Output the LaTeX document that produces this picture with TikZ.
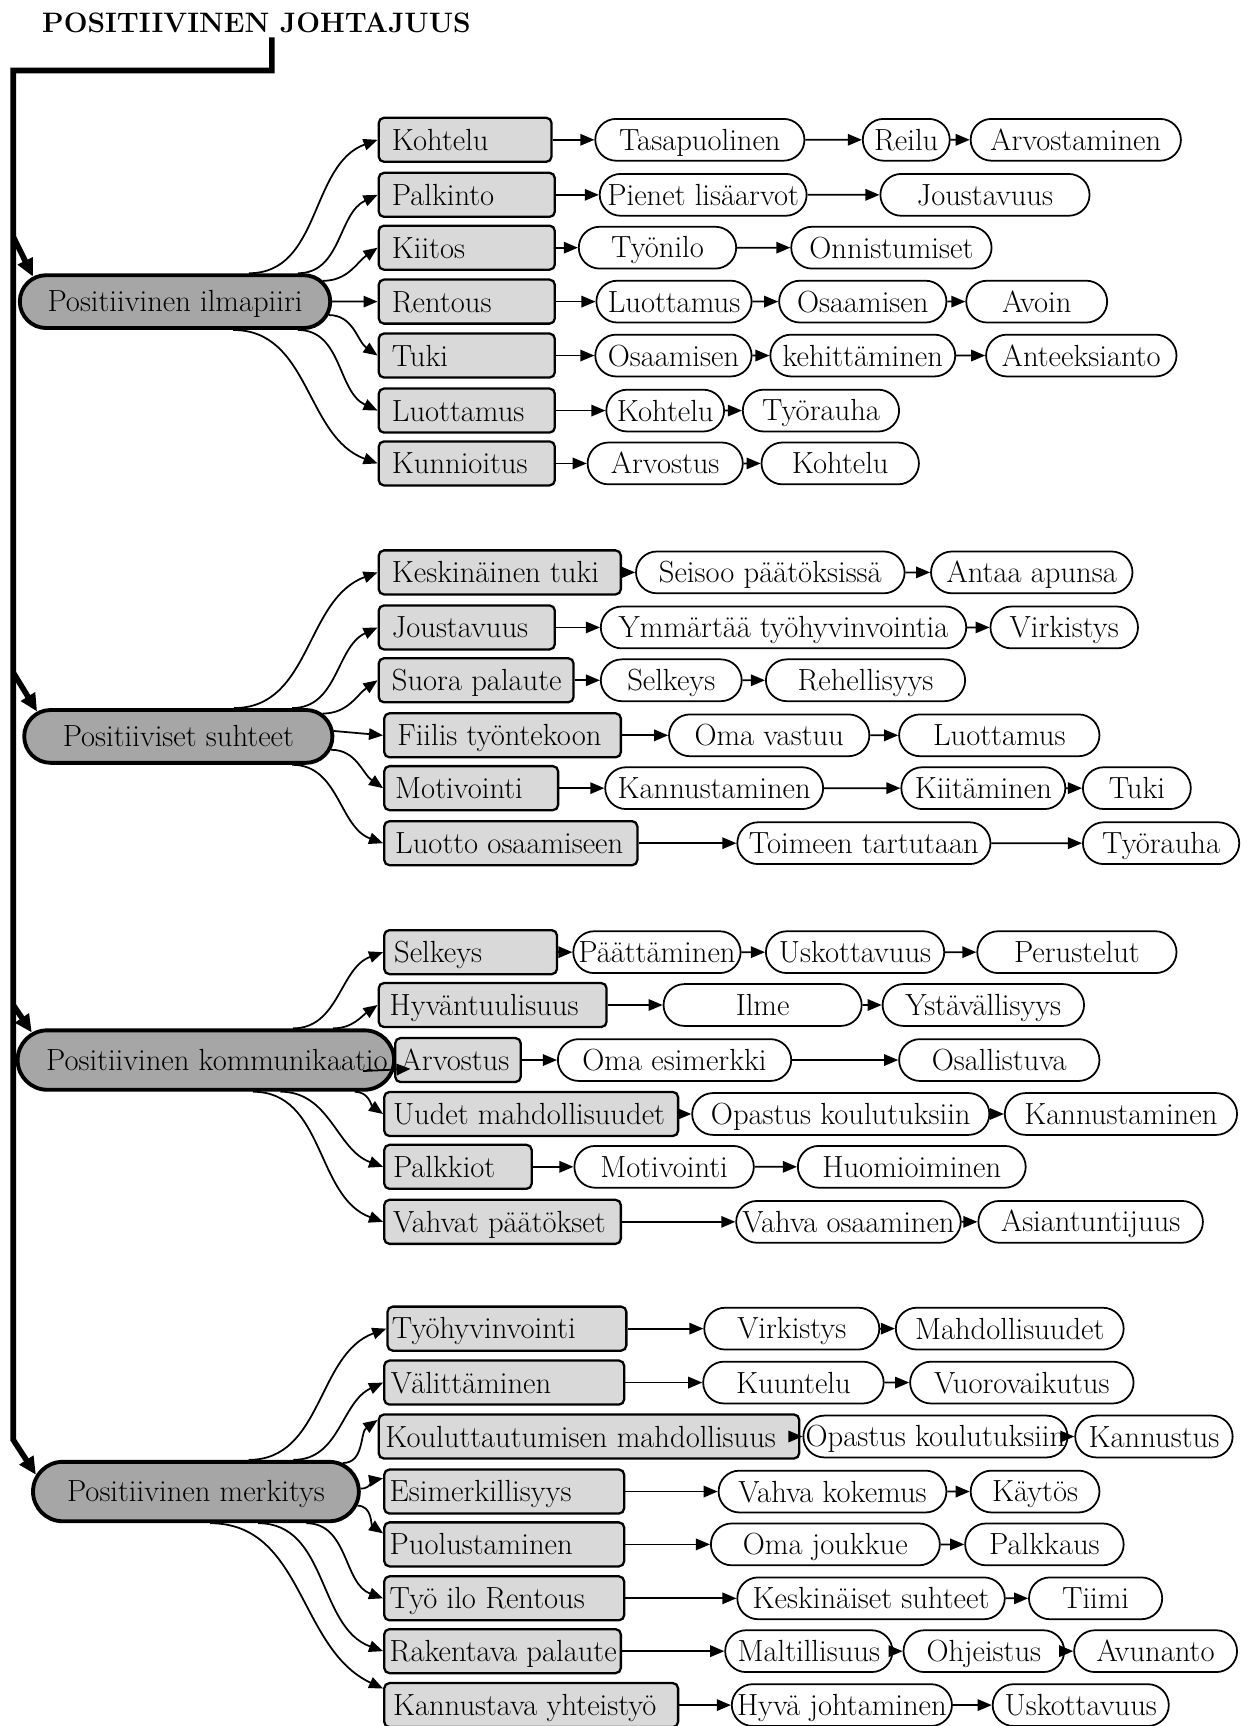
\documentclass[tikz,border=0pt]{standalone}
\usepackage{tikz}
\usetikzlibrary{arrows.meta,positioning,calc,shapes.misc}
\definecolor{hubGray}{HTML}{A6A6A6}
\definecolor{boxGray}{HTML}{D9D9D9}
\newlength{\unitpx}
\setlength{\unitpx}{0.022cm}
\newcommand{\nodestrut}{\rule[-3pt]{0pt}{18pt}}

\begin{document}
\begin{tikzpicture}[x=0.022cm,y=-0.022cm,font=\fontsize{17.4}{20}\selectfont,
  hub/.style 2 args={draw,line width=2.2pt,rounded rectangle,fill=hubGray,inner sep=0pt,
    minimum width=#1*0.022cm,minimum height=#2*0.022cm,
    execute at begin node={\hbox to 0pt\bgroup\hss\nodestrut},execute at end node={\hss\egroup}},
  box/.style 2 args={draw,line width=1.3pt,rounded corners=3pt,fill=boxGray,inner sep=0pt,
    minimum height=40*0.022cm,anchor=west,
    execute at begin node={\hbox to #1\unitpx\bgroup\hskip#2\unitpx\nodestrut},execute at end node={\hfil\egroup}},
  leaf/.style={draw,line width=1pt,rounded rectangle,fill=white,inner sep=0pt,
    minimum width=#1*0.022cm,minimum height=38*0.022cm,anchor=west,
    execute at begin node={\hbox to 0pt\bgroup\hss\nodestrut},execute at end node={\hss\egroup}},
  arr/.style={line width=1pt,-{Triangle[length=8pt,width=6.5pt]}},
  spine/.style={line width=3.2pt,-{Triangle[length=10pt,width=9pt]}}]
\useasboundingbox (0,0) rectangle (1139,1568);
% title and spine
\node[font=\fontsize{16}{19}\selectfont\bfseries,anchor=west,inner sep=0pt] (title) at (38,21) {POSITIIVINEN JOHTAJUUS};
\coordinate (top) at (247,34);
\coordinate (elbow) at (247,64);
\coordinate (corner) at (12,64);
\coordinate (j1) at (12,215);
\coordinate (j2) at (12,611);
\coordinate (j3) at (12,913);
\coordinate (j4) at (12,1308);
% hubs
\node[hub={282}{48}] (hi) at (159,274) {Positiivinen ilmapiiri};
\node[hub={280}{48}] (hs) at (162,669) {Positiiviset suhteet};
\node[hub={342}{54}] (hk) at (187,963) {\hspace{20\unitpx}Positiivinen kommunikaatio};
\node[hub={296}{54}] (hm) at (178,1355) {Positiivinen merkitys};
\draw[spine] (top) -- (elbow) -- (corner) -- (j4) -- (hm.174);
\draw[spine] (j1) -- (hi.170);
\draw[spine] (j2) -- (hs.170);
\draw[spine] (j3) -- (hk.171);
% ilmapiiri
\node[box={157}{12}] (i1) at (343,127) {Kohtelu};
\node[box={160}{12}] (i2) at (343,177) {Palkinto};
\node[box={160}{12}] (i3) at (343,225) {Kiitos};
\node[box={160}{12}] (i4) at (343,274) {Rentous};
\node[box={160}{12}] (i5) at (343,323) {Tuki};
\node[box={160}{12}] (i6) at (343,373) {Luottamus};
\node[box={160}{12}] (i7) at (343,421) {Kunnioitus};
\node[leaf=190] (i1a) at (540,127) {Tasapuolinen};
\node[leaf=79] (i1b) at (783,127) {Reilu};
\node[leaf=191] (i1c) at (881,127) {Arvostaminen};
\node[leaf=188] (i2a) at (544,177) {Pienet lisäarvot};
\node[leaf=190] (i2b) at (799,177) {Joustavuus};
\node[leaf=143] (i3a) at (525,225) {Työnilo};
\node[leaf=182] (i3b) at (718,225) {Onnistumiset};
\node[leaf=141] (i4a) at (541,274) {Luottamus};
\node[leaf=152] (i4b) at (707,274) {Osaamisen};
\node[leaf=128] (i4c) at (877,274) {Avoin};
\node[leaf=142] (i5a) at (540,323) {Osaamisen};
\node[leaf=168] (i5b) at (699,323) {kehittäminen};
\node[leaf=173] (i5c) at (895,323) {Anteeksianto};
\node[leaf=107] (i6a) at (550,373) {Kohtelu};
\node[leaf=142] (i6b) at (674,373) {Työrauha};
\node[leaf=141] (i7a) at (533,421) {Arvostus};
\node[leaf=143] (i7b) at (691,421) {Kohtelu};
\draw[arr] (hi.21) to[out=0,in=200] (i1.west);
\draw[arr] (hi.13) to[out=0,in=205] (i2.west);
\draw[arr] (hi.8) to[out=0,in=215] (i3.west);
\draw[arr] (hi) -- (i4);
\draw[arr] (hi.-5) to[out=0,in=145] (i5.west);
\draw[arr] (hi.-13) to[out=0,in=155] (i6.west);
\draw[arr] (hi.-26) to[out=0,in=160] (i7.west);
\draw[arr] (i1) -- (i1a); \draw[arr] (i1a) -- (i1b); \draw[arr] (i1b) -- (i1c);
\draw[arr] (i2) -- (i2a); \draw[arr] (i2a) -- (i2b);
\draw[arr] (i3) -- (i3a); \draw[arr] (i3a) -- (i3b);
\draw[arr] (i4) -- (i4a); \draw[arr] (i4a) -- (i4b); \draw[arr] (i4b) -- (i4c);
\draw[arr] (i5) -- (i5a); \draw[arr] (i5a) -- (i5b); \draw[arr] (i5b) -- (i5c);
\draw[arr] (i6) -- (i6a); \draw[arr] (i6a) -- (i6b);
\draw[arr] (i7) -- (i7a); \draw[arr] (i7a) -- (i7b);
% suhteet
\node[box={220}{12}] (s1) at (343,520) {Keskinäinen tuki};
\node[box={160}{12}] (s2) at (343,570) {Joustavuus};
\node[box={177}{12}] (s3) at (343,618) {Suora palaute};
\node[box={215}{12}] (s4) at (348,668) {Fiilis työntekoon};
\node[box={158}{10}] (s5) at (348,716) {Motivointi};
\node[box={230}{10}] (s6) at (348,766) {Luotto osaamiseen};
\node[leaf=244] (s1a) at (577,520) {Seisoo päätöksissä};
\node[leaf=183] (s1b) at (845,520) {Antaa apunsa};
\node[leaf=332] (s2a) at (545,570) {Ymmärtää työhyvinvointia};
\node[leaf=134] (s2b) at (899,570) {Virkistys};
\node[leaf=128] (s3a) at (545,618) {Selkeys};
\node[leaf=181] (s3b) at (695,618) {Rehellisyys};
\node[leaf=182] (s4a) at (607,668) {Oma vastuu};
\node[leaf=182] (s4b) at (816,668) {Luottamus};
\node[leaf=198] (s5a) at (549,716) {Kannustaminen};
\node[leaf=149] (s5b) at (818,716) {Kiitäminen};
\node[leaf=98] (s5c) at (983,716) {Tuki};
\node[leaf=230] (s6a) at (669,766) {Toimeen tartutaan};
\node[leaf=142] (s6b) at (983,766) {Työrauha};
\draw[arr] (hs.27) to[out=0,in=200] (s1.west);
\draw[arr] (hs.14) to[out=0,in=205] (s2.west);
\draw[arr] (hs.9) to[out=0,in=215] (s3.west);
\draw[arr] (hs.2) -- (s4.west);
\draw[arr] (hs.-5) to[out=0,in=145] (s5.west);
\draw[arr] (hs.-14) to[out=0,in=160] (s6.west);
\draw[arr] (s1) -- (s1a); \draw[arr] (s1a) -- (s1b);
\draw[arr] (s2) -- (s2a); \draw[arr] (s2a) -- (s2b);
\draw[arr] (s3) -- (s3a); \draw[arr] (s3a) -- (s3b);
\draw[arr] (s4) -- (s4a); \draw[arr] (s4a) -- (s4b);
\draw[arr] (s5) -- (s5a); \draw[arr] (s5a) -- (s5b); \draw[arr] (s5b) -- (s5c);
\draw[arr] (s6) -- (s6a); \draw[arr] (s6a) -- (s6b);
% kommunikaatio
\node[box={157}{9}] (k1) at (348,865) {Selkeys};
\node[box={207}{10}] (k2) at (343,913) {Hyväntuulisuus};
\node[box={114}{5}] (k3) at (358,963) {Arvostus};
\node[box={267}{8}] (k4) at (348,1012) {Uudet mahdollisuudet};
\node[box={134}{8}] (k5) at (348,1060) {Palkkiot};
\node[box={215}{8}] (k6) at (348,1110) {Vahvat päätökset};
\node[leaf=152] (k1a) at (520,865) {Päättäminen};
\node[leaf=162] (k1b) at (695,865) {Uskottavuus};
\node[leaf=181] (k1c) at (887,865) {Perustelut};
\node[leaf=180] (k2a) at (602,913) {Ilme};
\node[leaf=183] (k2b) at (801,913) {Ystävällisyys};
\node[leaf=212] (k3a) at (506,963) {Oma esimerkki};
\node[leaf=182] (k3b) at (816,963) {Osallistuva};
\node[leaf=270] (k4a) at (628,1012) {Opastus koulutuksiin};
\node[leaf=211] (k4b) at (912,1012) {Kannustaminen};
\node[leaf=163] (k5a) at (521,1060) {Motivointi};
\node[leaf=207] (k5b) at (724,1060) {Huomioiminen};
\node[leaf=204] (k6a) at (668,1110) {Vahva osaaminen};
\node[leaf=204] (k6b) at (888,1110) {Asiantuntijuus};
\draw[arr] (hk.20) to[out=0,in=200] (k1.west);
\draw[arr] (hk.14) to[out=0,in=215] (k2.west);
\draw[arr] ($(hk.east)+(-30,10)$) -- ($(k3.west)+(15,8)$);
\draw[arr] (hk.-12) to[out=0,in=145] (k4.west);
\draw[arr] (hk.-23) to[out=0,in=160] (k5.west);
\draw[arr] (hk.-34) to[out=0,in=160] (k6.west);
\draw[arr] (k1) -- (k1a); \draw[arr] (k1a) -- (k1b); \draw[arr] (k1b) -- (k1c);
\draw[arr] (k2) -- (k2a); \draw[arr] (k2a) -- (k2b);
\draw[arr] (k3) -- (k3a); \draw[arr] (k3a) -- (k3b);
\draw[arr] (k4) -- (k4a); \draw[arr] (k4a) -- (k4b);
\draw[arr] (k5) -- (k5a); \draw[arr] (k5a) -- (k5b);
\draw[arr] (k6) -- (k6a); \draw[arr] (k6a) -- (k6b);
% merkitys
\node[box={217}{4}] (m1) at (351,1207) {Työhyvinvointi};
\node[box={218}{6}] (m2) at (348,1256) {Välittäminen};
\node[box={382}{6}] (m3) at (343,1305) {Kouluttautumisen mahdollisuus};
\node[box={218}{5}] (m4) at (348,1355) {Esimerkillisyys};
\node[box={218}{5}] (m5) at (348,1403) {Puolustaminen};
\node[box={218}{5}] (m6) at (348,1452) {Työ ilo Rentous};
\node[box={215}{5}] (m7) at (348,1500) {Rakentava palaute};
\node[box={267}{8}] (m8) at (348,1549) {Kannustava yhteistyö};
\node[leaf=159] (m1a) at (639,1207) {Virkistys};
\node[leaf=207] (m1b) at (813,1207) {Mahdollisuudet};
\node[leaf=164] (m2a) at (638,1256) {Kuuntelu};
\node[leaf=203] (m2b) at (826,1256) {Vuorovaikutus};
\node[leaf=240] (m3a) at (729,1305) {Opastus koulutuksiin};
\node[leaf=143] (m3b) at (976,1305) {Kannustus};
\node[leaf=207] (m4a) at (652,1355) {Vahva kokemus};
\node[leaf=117] (m4b) at (881,1355) {Käytös};
\node[leaf=208] (m5a) at (645,1403) {Oma joukkue};
\node[leaf=144] (m5b) at (876,1403) {Palkkaus};
\node[leaf=243] (m6a) at (669,1452) {Keskinäiset suhteet};
\node[leaf=121] (m6b) at (934,1452) {Tiimi};
\node[leaf=152] (m7a) at (658,1500) {Maltillisuus};
\node[leaf=146] (m7b) at (820,1500) {Ohjeistus};
\node[leaf=148] (m7c) at (975,1500) {Avunanto};
\node[leaf=200] (m8a) at (664,1549) {Hyvä johtaminen};
\node[leaf=160] (m8b) at (901,1549) {Uskottavuus};
\draw[arr] (hm.31) to[out=0,in=200] (m1.west);
\draw[arr] (hm.18) to[out=0,in=205] (m2.west);
\draw[arr] (hm.11) to[out=0,in=215] ($(m3.north west)+(0,6)$);
\draw[arr] (hm.1) to[out=0,in=190] ($(m4.west)+(0,-12)$);
\draw[arr] (hm.-5) to[out=0,in=145] ($(m5.west)+(0,-10)$);
\draw[arr] (hm.-16) to[out=0,in=160] (m6.west);
\draw[arr] (hm.-27) to[out=0,in=160] (m7.west);
\draw[arr] (hm.-66) to[out=0,in=155] ($(m8.north west)+(0,6)$);
\draw[arr] (m1) -- (m1a); \draw[arr] (m1a) -- (m1b);
\draw[arr] (m2) -- (m2a); \draw[arr] (m2a) -- (m2b);
\draw[arr] (m3) -- (m3a); \draw[arr] (m3a) -- (m3b);
\draw[arr] (m4) -- (m4a); \draw[arr] (m4a) -- (m4b);
\draw[arr] (m5) -- (m5a); \draw[arr] (m5a) -- (m5b);
\draw[arr] (m6) -- (m6a); \draw[arr] (m6a) -- (m6b);
\draw[arr] (m7) -- (m7a); \draw[arr] (m7a) -- (m7b); \draw[arr] (m7b) -- (m7c);
\draw[arr] (m8) -- (m8a); \draw[arr] (m8a) -- (m8b);
\end{tikzpicture}
\end{document}
